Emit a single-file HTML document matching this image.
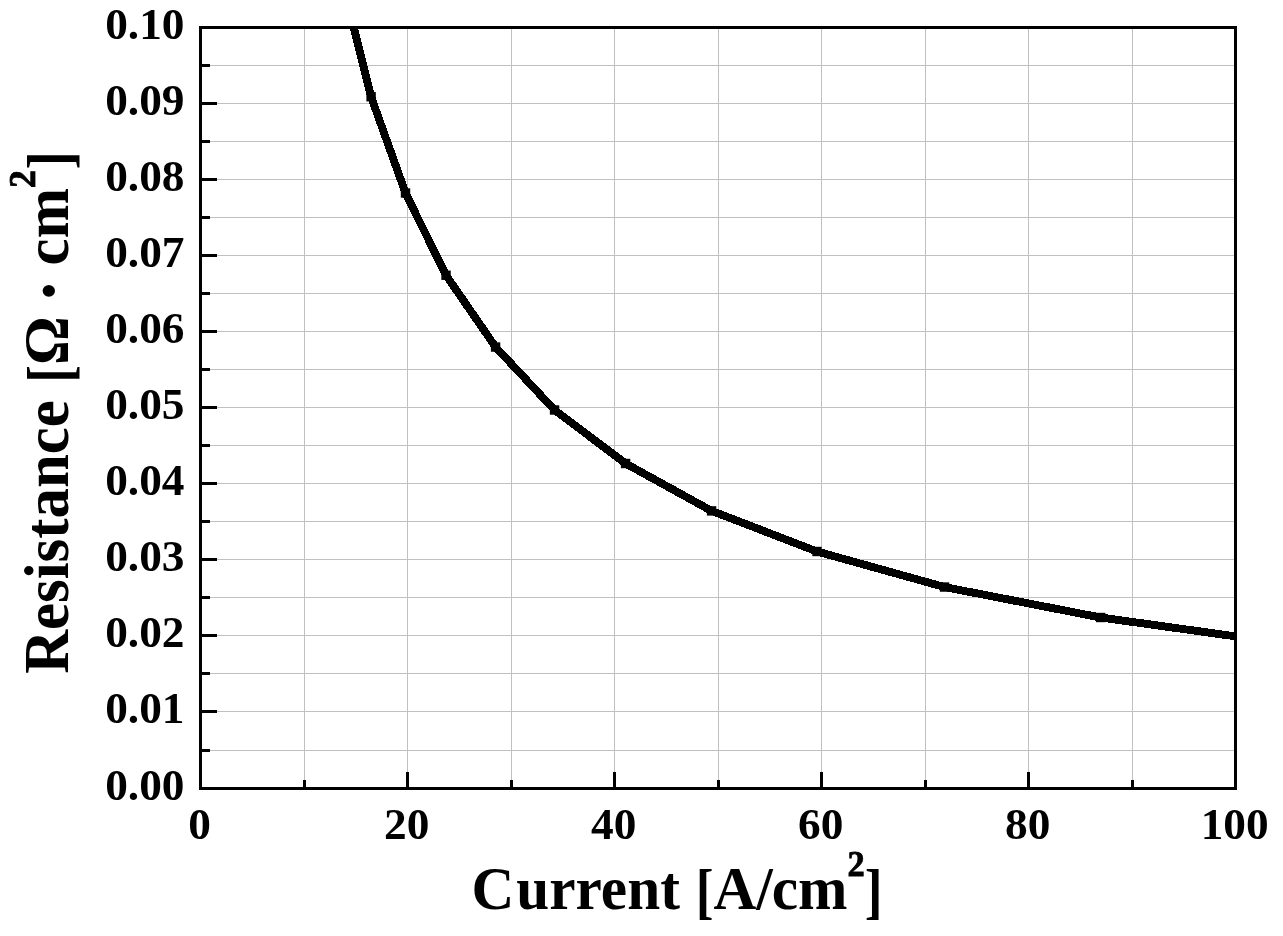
<!DOCTYPE html>
<html lang="en"><head><meta charset="utf-8"><title>Resistance vs Current</title>
<style>
html,body{margin:0;padding:0;background:#fff;}
body{width:1283px;height:936px;overflow:hidden;}
svg{display:block;will-change:transform;}
text{font-family:"Liberation Serif",serif;font-weight:bold;fill:#000;}
.tk{font-size:43.6px;}
.xt{font-size:59.3px;}
.xs{font-size:34.4px;stroke:#000;stroke-width:0.8px;}
.yt{font-size:60.8px;}
.ys{font-size:35.8px;stroke:#000;stroke-width:0.8px;}
</style></head><body>
<svg width="1283" height="936" viewBox="0 0 1283 936">
<rect x="0" y="0" width="1283" height="936" fill="#fff"/>
<defs><clipPath id="pc"><rect x="200.5" y="27.5" width="1035" height="761"/></clipPath></defs>
<g stroke="#c0c0c0" stroke-width="1" shape-rendering="crispEdges">
<line x1="304.5" y1="27.5" x2="304.5" y2="788.5"/>
<line x1="407.5" y1="27.5" x2="407.5" y2="788.5"/>
<line x1="511.5" y1="27.5" x2="511.5" y2="788.5"/>
<line x1="614.5" y1="27.5" x2="614.5" y2="788.5"/>
<line x1="718.5" y1="27.5" x2="718.5" y2="788.5"/>
<line x1="821.5" y1="27.5" x2="821.5" y2="788.5"/>
<line x1="925.5" y1="27.5" x2="925.5" y2="788.5"/>
<line x1="1028.5" y1="27.5" x2="1028.5" y2="788.5"/>
<line x1="1132.5" y1="27.5" x2="1132.5" y2="788.5"/>
<line x1="200.5" y1="750.5" x2="1235.5" y2="750.5"/>
<line x1="200.5" y1="711.5" x2="1235.5" y2="711.5"/>
<line x1="200.5" y1="673.5" x2="1235.5" y2="673.5"/>
<line x1="200.5" y1="635.5" x2="1235.5" y2="635.5"/>
<line x1="200.5" y1="597.5" x2="1235.5" y2="597.5"/>
<line x1="200.5" y1="559.5" x2="1235.5" y2="559.5"/>
<line x1="200.5" y1="521.5" x2="1235.5" y2="521.5"/>
<line x1="200.5" y1="483.5" x2="1235.5" y2="483.5"/>
<line x1="200.5" y1="445.5" x2="1235.5" y2="445.5"/>
<line x1="200.5" y1="407.5" x2="1235.5" y2="407.5"/>
<line x1="200.5" y1="369.5" x2="1235.5" y2="369.5"/>
<line x1="200.5" y1="331.5" x2="1235.5" y2="331.5"/>
<line x1="200.5" y1="293.5" x2="1235.5" y2="293.5"/>
<line x1="200.5" y1="255.5" x2="1235.5" y2="255.5"/>
<line x1="200.5" y1="217.5" x2="1235.5" y2="217.5"/>
<line x1="200.5" y1="179.5" x2="1235.5" y2="179.5"/>
<line x1="200.5" y1="141.5" x2="1235.5" y2="141.5"/>
<line x1="200.5" y1="103.5" x2="1235.5" y2="103.5"/>
<line x1="200.5" y1="65.5" x2="1235.5" y2="65.5"/>
</g>
<g clip-path="url(#pc)">
<polyline fill="none" stroke="#000" stroke-width="7.9" stroke-linejoin="round" shape-rendering="crispEdges" points="342.6,-17.3 371.1,96.75 405.5,193 446.05,275.25 495.6,347.05 554.55,410 625.6,463.5 711.6,510.9 817,551.5 944.55,587.05 1100.7,617.5 1281,642.7"/>
<rect x="366.4" y="92.05" width="9.4" height="9.4" fill="#000"/>
<rect x="400.8" y="188.3" width="9.4" height="9.4" fill="#000"/>
<rect x="441.35" y="270.55" width="9.4" height="9.4" fill="#000"/>
<rect x="490.9" y="342.35" width="9.4" height="9.4" fill="#000"/>
<rect x="549.85" y="405.3" width="9.4" height="9.4" fill="#000"/>
<rect x="620.9" y="458.8" width="9.4" height="9.4" fill="#000"/>
<rect x="706.9" y="506.2" width="9.4" height="9.4" fill="#000"/>
<rect x="812.3" y="546.8" width="9.4" height="9.4" fill="#000"/>
<rect x="939.85" y="582.35" width="9.4" height="9.4" fill="#000"/>
<rect x="1096" y="612.8" width="9.4" height="9.4" fill="#000"/>
</g>
<g stroke="#000" stroke-width="3" shape-rendering="crispEdges">
<line x1="200.5" y1="750.5" x2="210" y2="750.5"/>
<line x1="200.5" y1="711.5" x2="217" y2="711.5"/>
<line x1="200.5" y1="673.5" x2="210" y2="673.5"/>
<line x1="200.5" y1="635.5" x2="217" y2="635.5"/>
<line x1="200.5" y1="597.5" x2="210" y2="597.5"/>
<line x1="200.5" y1="559.5" x2="217" y2="559.5"/>
<line x1="200.5" y1="521.5" x2="210" y2="521.5"/>
<line x1="200.5" y1="483.5" x2="217" y2="483.5"/>
<line x1="200.5" y1="445.5" x2="210" y2="445.5"/>
<line x1="200.5" y1="407.5" x2="217" y2="407.5"/>
<line x1="200.5" y1="369.5" x2="210" y2="369.5"/>
<line x1="200.5" y1="331.5" x2="217" y2="331.5"/>
<line x1="200.5" y1="293.5" x2="210" y2="293.5"/>
<line x1="200.5" y1="255.5" x2="217" y2="255.5"/>
<line x1="200.5" y1="217.5" x2="210" y2="217.5"/>
<line x1="200.5" y1="179.5" x2="217" y2="179.5"/>
<line x1="200.5" y1="141.5" x2="210" y2="141.5"/>
<line x1="200.5" y1="103.5" x2="217" y2="103.5"/>
<line x1="200.5" y1="65.5" x2="210" y2="65.5"/>
<line x1="304.5" y1="788.5" x2="304.5" y2="779.5"/>
<line x1="407.5" y1="788.5" x2="407.5" y2="771.5"/>
<line x1="511.5" y1="788.5" x2="511.5" y2="779.5"/>
<line x1="614.5" y1="788.5" x2="614.5" y2="771.5"/>
<line x1="718.5" y1="788.5" x2="718.5" y2="779.5"/>
<line x1="821.5" y1="788.5" x2="821.5" y2="771.5"/>
<line x1="925.5" y1="788.5" x2="925.5" y2="779.5"/>
<line x1="1028.5" y1="788.5" x2="1028.5" y2="771.5"/>
<line x1="1132.5" y1="788.5" x2="1132.5" y2="779.5"/>
</g>
<rect x="200.5" y="27.5" width="1035" height="761" fill="none" stroke="#000" stroke-width="3" shape-rendering="crispEdges"/>
<g class="tk" text-anchor="end">
<text transform="translate(184.5,799.8) scale(1.04,1)">0.00</text>
<text transform="translate(184.5,722.8) scale(1.04,1)">0.01</text>
<text transform="translate(184.5,646.8) scale(1.04,1)">0.02</text>
<text transform="translate(184.5,570.8) scale(1.04,1)">0.03</text>
<text transform="translate(184.5,494.8) scale(1.04,1)">0.04</text>
<text transform="translate(184.5,418.8) scale(1.04,1)">0.05</text>
<text transform="translate(184.5,342.8) scale(1.04,1)">0.06</text>
<text transform="translate(184.5,266.8) scale(1.04,1)">0.07</text>
<text transform="translate(184.5,190.8) scale(1.04,1)">0.08</text>
<text transform="translate(184.5,114.8) scale(1.04,1)">0.09</text>
<text transform="translate(184.5,38.8) scale(1.04,1)">0.10</text>
</g>
<g class="tk" text-anchor="middle">
<text transform="translate(199.7,838.6) scale(1.04,1)">0</text>
<text transform="translate(406.7,838.6) scale(1.04,1)">20</text>
<text transform="translate(613.7,838.6) scale(1.04,1)">40</text>
<text transform="translate(820.7,838.6) scale(1.04,1)">60</text>
<text transform="translate(1027.7,838.6) scale(1.04,1)">80</text>
<text transform="translate(1234.7,838.6) scale(1.04,1)">100</text>
</g>
<text class="xt" transform="translate(471.5,909) scale(1,1.03)">C<tspan dx="2">urrent </tspan><tspan dy="3.2" dx="1.1" textLength="17.7722" lengthAdjust="spacingAndGlyphs">[</tspan><tspan dy="-3.2" dx="-0.12531">A/</tspan><tspan dx="-1">cm</tspan><tspan class="xs" dy="-32.3">2</tspan><tspan dy="35.5" textLength="17.7722" lengthAdjust="spacingAndGlyphs">]</tspan></text>
<text class="yt" transform="translate(68.3,673.8) rotate(-90) scale(1,1.03)">Resistance <tspan dy="2.7" dx="2.3" textLength="17.8168" lengthAdjust="spacingAndGlyphs">[</tspan><tspan dy="-2.7" dx="0.129568">Ω </tspan><tspan style="font-size:72.96px" dy="5.6628" dx="-2.02768">·</tspan><tspan dy="-5.6628" dx="-2.02768"> cm</tspan><tspan class="ys" dy="-32.4">2</tspan><tspan dy="35.1" dx="0.4" textLength="18.2218" lengthAdjust="spacingAndGlyphs">]</tspan></text>
</svg>
</body></html>
